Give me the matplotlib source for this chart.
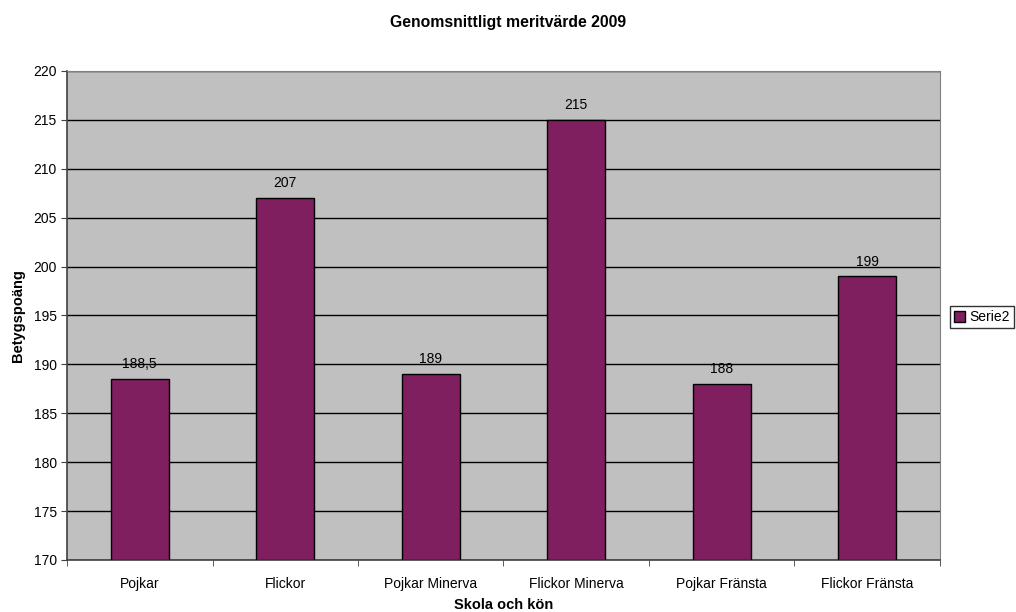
import numpy as np
import matplotlib.pyplot as plt

plt.rcParams['font.family'] = ['Liberation Sans', 'DejaVu Sans']

kategorier = ["Pojkar", "Flickor", "Pojkar Minerva", "Flickor Minerva", "Pojkar Fränsta", "Flickor Fränsta"]
meritvarde = [188.5, 207, 189, 215, 188, 199]
etiketter = ["188,5", "207", "189", "215", "188", "199"]

fig = plt.figure(figsize=(10.16, 6.12), dpi=100)
ax = fig.add_axes([0.066, 0.085, 0.859, 0.799])
ax.set_facecolor('#c0c0c0')

x = np.arange(len(kategorier))
staplar = ax.bar(x, np.array(meritvarde) - 170, bottom=170, width=0.4,
                 color='#7f1f5f', edgecolor='black', linewidth=1, zorder=3, label='Serie2')

for xi, v, t in zip(x, meritvarde, etiketter):
    ax.text(xi, v + 0.8, t, ha='center', va='bottom', fontsize=10)

ax.set_ylim(170, 220)
ax.set_xlim(-0.5, len(kategorier) - 0.5)
ax.set_yticks(np.arange(170, 221, 5))
ax.yaxis.grid(True, color='black', linewidth=1, zorder=1)
ax.set_xticks(x)
ax.set_xticklabels(kategorier)
ax.tick_params(axis='x', length=0, labelsize=10, pad=12)
ax.set_xticks(np.arange(-0.5, len(kategorier)), minor=True)
ax.tick_params(axis='x', which='minor', length=4, color='#404040')
ax.tick_params(axis='y', length=4, labelsize=10, color='#404040')

for s in ['top', 'right']:
    ax.spines[s].set_color('#808080')
for s in ['left', 'bottom']:
    ax.spines[s].set_color('#404040')
    ax.spines[s].set_linewidth(1.2)

ax.set_xlabel("Skola och kön", fontsize=10.5, fontweight='bold', labelpad=5)
ax.set_ylabel("Betygspoäng", fontsize=10.5, fontweight='bold', labelpad=6)
fig.suptitle("Genomsnittligt meritvärde 2009", fontsize=11.3, fontweight='bold', y=0.975)

fig.legend(handles=[staplar], labels=['Serie2'], loc='center left', bbox_to_anchor=(0.935, 0.482),
           fontsize=10, frameon=True, fancybox=False, edgecolor='black', handlelength=0.8,
           handleheight=0.8, handletextpad=0.3, borderpad=0.3, borderaxespad=0)

fig.savefig("out.png", dpi=100)
